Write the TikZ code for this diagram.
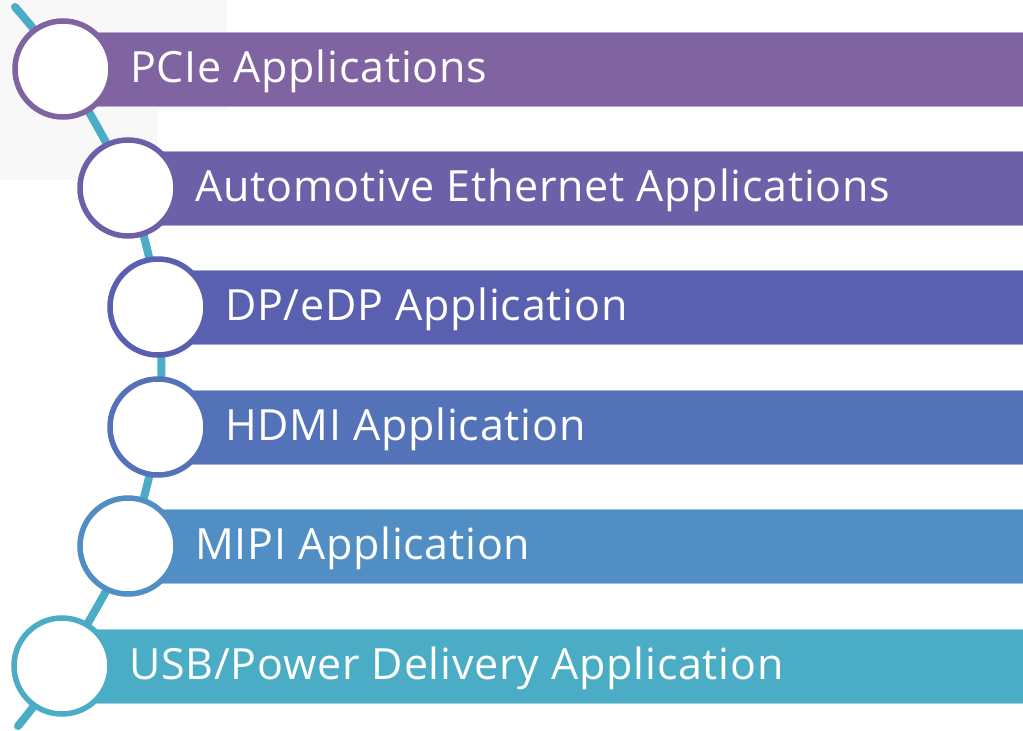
\documentclass[tikz,border=0pt]{standalone}
\usepackage{fontspec}
\setmainfont[LetterSpace=1.8]{Open Sans}
\definecolor{c1}{RGB}{128,100,162}
\definecolor{c2}{RGB}{108,96,168}
\definecolor{c3}{RGB}{90,96,176}
\definecolor{c4}{RGB}{84,114,184}
\definecolor{c5}{RGB}{80,142,195}
\definecolor{c6}{RGB}{75,172,198}
\definecolor{bgfaint}{RGB}{248,248,248}
\tikzset{
  dot/.style={circle, draw=#1, fill=white, line width=5.5pt, minimum size=96pt, inner sep=0pt},
  barlabel/.style={anchor=base west, text=white, font=\fontsize{43}{48}\selectfont, inner sep=0pt},
  arcline/.style={draw=c6, line width=8pt, line cap=round},
}
\newcommand{\rowitem}[5]{% name, cx, cy, colour, text
  \fill[#4, draw=#4!55!white, line width=1pt] (#2,#3-37) rectangle (1023,#3+37);
  \node[dot=#4] (d#1) at (#2,#3) {};
  \node[barlabel] (t#1) at (#2+67,#3+13.5) {#5};
}
\begin{document}
\begin{tikzpicture}[x=1pt,y=-1pt]
\useasboundingbox (0,0) rectangle (1023,731);
\fill[bgfaint] (0,0) -- (227,0) -- (227,110) -- (157,110) -- (157,180) -- (0,180) -- cycle;
\coordinate (top) at (15,7);
\coordinate (bot) at (18,726);
\coordinate (p1) at (63,69);
\coordinate (p2) at (128,188);
\coordinate (p3) at (158,307);
\coordinate (p4) at (158,427);
\coordinate (p5) at (128,546);
\coordinate (p6) at (62,666);
\draw[arcline] plot[smooth, tension=0.55] coordinates {(top) (p1) (p2) (p3) (p4) (p5) (p6) (bot)};
\rowitem{1}{63}{69}{c1}{PCIe Applications}
\rowitem{2}{128}{188}{c2}{Automotive Ethernet Applications}
\rowitem{3}{158}{307}{c3}{DP/eDP Application}
\rowitem{4}{158}{427}{c4}{HDMI Application}
\rowitem{5}{128}{546}{c5}{MIPI Application}
\rowitem{6}{62}{666}{c6}{USB/Power Delivery Application}
\end{tikzpicture}
\end{document}
